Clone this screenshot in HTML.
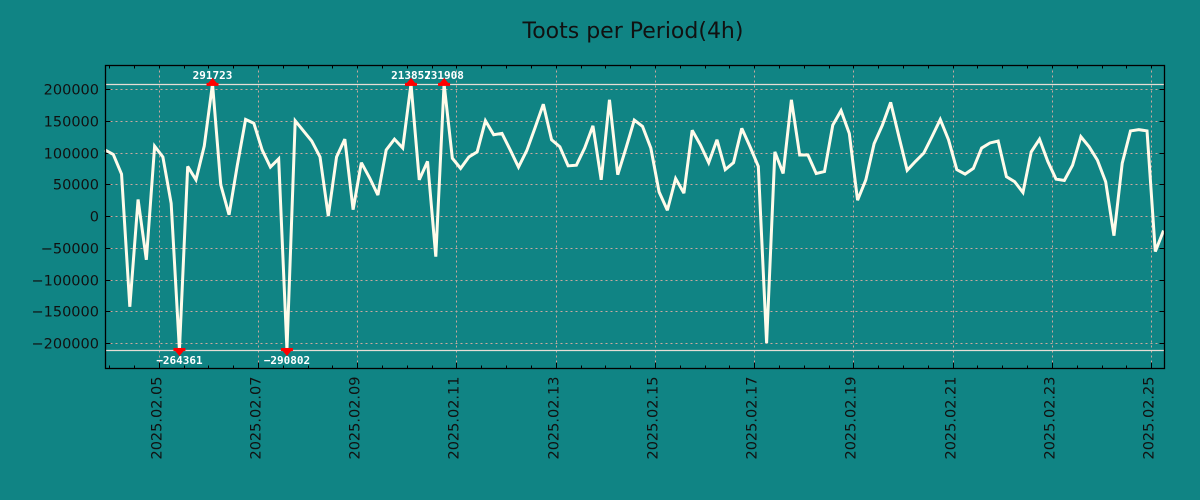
<!DOCTYPE html>
<html><head><meta charset="utf-8"><style>
html,body{margin:0;padding:0;background:#108484;}
svg{display:block;font-family:"DejaVu Sans","Liberation Sans",sans-serif;}
</style></head><body>
<svg width="1200" height="500" viewBox="0 0 1200 500">
<rect x="0" y="0" width="1200" height="500" fill="#108484"/>
<text x="633" y="38" text-anchor="middle" font-size="22" fill="#111">Toots per Period(4h)</text>
<g id="grid"></g>
<g id="axes"></g>
<g id="series"></g>
<g id="annot"></g>
<rect x="105.5" y="65.5" width="1059" height="303" fill="none" stroke="#000" stroke-width="1.3"/>
</svg>
<script>
const values = [104000,97000,66000,-143000,26000,-69000,110000,93000,20000,-264361,78000,57000,110000,291723,49000,2000,80000,152000,146000,104000,77000,90000,-290802,150000,134000,118000,93000,0,93000,121000,10000,84000,60000,33000,104000,121000,107000,213857,57000,86000,-64000,231908,91000,75000,93000,101000,150000,128000,130000,104000,77000,103000,139000,176000,120000,109000,79000,80000,107000,142000,57000,183000,65000,107000,151000,141000,107000,38000,9000,59000,36000,135000,112000,84000,120000,73000,84000,138000,109000,78000,-200000,101000,67000,183000,96000,96000,67000,70000,143000,166000,130000,25000,57000,114000,143000,179000,125000,72000,86000,99000,125000,152000,120000,73000,66000,75000,107000,115000,118000,62000,54000,37000,101000,121000,86000,58000,56000,80000,125000,109000,88000,54000,-31000,83000,134000,136000,134000,-56000,-23000];
const yTicks = [-200000,-150000,-100000,-50000,0,50000,100000,150000,200000];
const xTickLabels = ["2025.02.05","2025.02.07","2025.02.09","2025.02.11","2025.02.13","2025.02.15","2025.02.17","2025.02.19","2025.02.21","2025.02.23","2025.02.25"];
const clipTop = 208000, clipBottom = -211000;
const startOffsetHours = 26;
const L=105.5,R=1164.5,T=65.5,B=368.5;
const ns="http://www.w3.org/2000/svg";
function xOfHour(h){return 105+h/4*8.27;}
function xOf(i){return xOfHour(i*4);}
function yOf(v){return 216-v*0.000635;}
function mk(tag,attrs,parent){const e=document.createElementNS(ns,tag);for(const k in attrs)e.setAttribute(k,attrs[k]);parent.appendChild(e);return e;}
const grid=document.getElementById('grid'),axes=document.getElementById('axes'),series=document.getElementById('series'),annot=document.getElementById('annot');
yTicks.forEach(v=>{
  const y=Math.round(yOf(v))+0.5;
  const g=mk('line',{x1:L,x2:R,y1:y,y2:y,stroke:'#c9a9a0','stroke-width':1,'stroke-dasharray':'2,3'},grid);
  
  
  const t1=mk('line',{x1:L,x2:L+5,y1:y,y2:y,stroke:'#000'},axes);
  
  
  const t2=mk('line',{x1:R-5,x2:R,y1:y,y2:y,stroke:'#000'},axes);
  
  
  const tx=mk('text',{x:99,y:y+5,'text-anchor':'end','font-size':14.5,fill:'#111'},axes);
  tx.textContent=String(v).replace('-','\u2212');
  
  
});
for(let h=startOffsetHours%12; xOfHour(h)<=R; h+=12){
  const x=Math.round(xOfHour(h))+0.5;
  const m1=mk('line',{x1:x,x2:x,y1:B-3,y2:B,stroke:'#000'},axes);
  
  
  const m2=mk('line',{x1:x,x2:x,y1:T,y2:T+3,stroke:'#000'},axes);
  
  
}
xTickLabels.forEach((lab,i)=>{
  const x=Math.round(xOfHour(startOffsetHours+i*48))+0.5;
  const g=mk('line',{x1:x,x2:x,y1:T,y2:B,stroke:'#c9a9a0','stroke-width':1,'stroke-dasharray':'2,3'},grid);
  
  
  const t=mk('line',{x1:x,x2:x,y1:B-6,y2:B,stroke:'#000'},axes);
  
  
  const tx=mk('text',{x:0,y:0,'text-anchor':'end','font-size':14.5,fill:'#111',transform:`translate(${x+2},${B+8}) rotate(-90)`},axes);
  tx.textContent=lab;
  
  
});
[clipTop,clipBottom].forEach(v=>{
  const y=Math.round(yOf(v))+0.5;
  const l=mk('line',{x1:L,x2:R,y1:y,y2:y,stroke:'#e6ddd6','stroke-width':1.3},grid);
  
  
});
const pts=values.map((v,i)=>{const c=Math.max(clipBottom,Math.min(clipTop,v));return xOf(i).toFixed(2)+','+yOf(c).toFixed(2);}).join(' ');
const pl=mk('polyline',{points:pts,fill:'none',stroke:'#fffbea','stroke-width':3,'stroke-linejoin':'miter','stroke-miterlimit':3},series);


values.forEach((v,i)=>{
  if(v<=clipTop && v>=clipBottom) return;
  const x=xOf(i), top=v>clipTop, y=yOf(top?clipTop:clipBottom);
  const tri=mk('polygon',{points: top?`${x-5},${y} ${x+5},${y} ${x},${y-6}`:`${x-5},${y} ${x+5},${y} ${x},${y+6}`,fill:'#f00'},annot);
  
  
  const bar=mk('rect',{x:x-6,y:top?y-1:y-2,width:12,height:3,fill:'#f00'},annot);
  
  
  const tx=mk('text',{x:x,y:top?y-5:y+14,'text-anchor':'middle','font-size':11,'font-weight':'bold','font-family':'"DejaVu Sans Mono","Liberation Mono",monospace',fill:'#fff'},annot);
  tx.textContent=String(v).replace('-','\u2212');
  
  
});
</script>
</body></html>
